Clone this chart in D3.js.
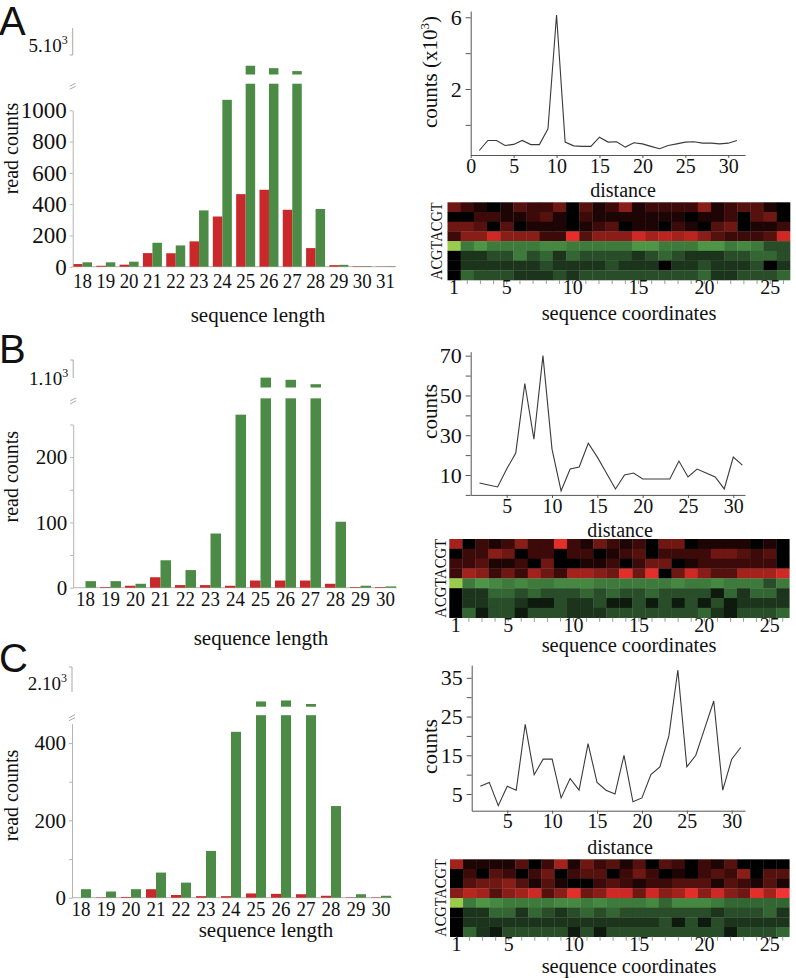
<!DOCTYPE html>
<html><head><meta charset="utf-8">
<script src="https://cdn.jsdelivr.net/npm/d3@7"></script>
<style>
body{margin:0;background:#fff}
svg text{font-family:"Liberation Serif","Times New Roman",serif;fill:#111}
svg text.panel{font-family:"Liberation Sans",Arial,sans-serif}
</style></head><body>
<svg id="fig" width="796" height="978"></svg>
<script>
// ---------------- DATA ----------------
// Panel bar charts: read counts by sequence length (red / green series)
const lengthsA = [18,19,20,21,22,23,24,25,26,27,28,29,30,31];
const redA   = [17,6,13,87,86,162,321,464,492,364,119,10,3,2];
const greenA = [28,28,32,153,136,360,1067,2910,2435,1865,369,12,4,3];

const lengthsB = [18,19,20,21,22,23,24,25,26,27,28,29,30];
const redB   = [0,1,3,16,4,4,3,11,11,11,6,1,1];
const greenB = [10,10,6,42,27,83,265,552,496,384,101,3,2];

const lengthsC = [18,19,20,21,22,23,24,25,26,27,28,29,30];
const redC   = [0,1,2,22,7,4,4,11,10,9,5,1,1];
const greenC = [22,16,22,65,39,121,429,681,719,583,237,9,5];

// Distance line charts
const distA = d3.range(1, 32);
const countsA = [-1.43,-0.87,-0.87,-1.15,-1.09,-0.87,-1.1,-1.1,-0.22,6.13,-0.96,-1.17,-1.2,-1.2,-0.69,-0.96,-0.94,-1.24,-1.0,-1.06,-1.2,-1.33,-1.15,-1.06,-0.96,-0.94,-1.02,-1.02,-1.06,-1.02,-0.87];
const distB = d3.range(2, 32);
const countsB = [6,5,4,13,21,56,28,70,23,2,13,14,26,19,11,3,10,11,8,8,8,8,17,9,13,11,9,3,19,15];
const distC = d3.range(2, 32);
const countsC = [7,8,2,7,6,23,10,14,14,4,9,6,18,8,6,5,15,3,4,10,12,20,37,12,15,22,29,6,14,17];

// Tick labels
const barTicksA = [0,200,400,600,800,1000];
const barTicksB = [0,50,100,150,200,250];
const barLabelsB = [0,100,200];
const barTicksC = [0,100,200,300,400];
const barLabelsC = [0,200,400];
const lineTicksA = [0,2,4,6], lineLabelsA = [2,6];
const lineTicksB = [0,10,20,30,40,50,60,70], lineLabelsB = [10,30,50,70];
const lineTicksC = [5,10,15,20,25,30,35], lineLabelsC = [5,15,25,35];
const distTicksA = [0,5,10,15,20,25,30];
const distTicksBC = [5,10,15,20,25,30];
const coordLabels = [1,5,10,15,20,25];
const coords = d3.range(1, 27);
const baseLabels = "ACGTACGT";

// Heatmaps: rows top->bottom (T,G,C,A red ; T,G,C,A green), 26 sequence coordinates, intensity 0-10
const heatA = [
 [4,2,1,0,1,3,2,2,4,0,3,1,2,5,1,2,2,2,2,5,1,2,3,3,1,0],
 [0,0,2,2,1,1,2,3,1,0,2,1,1,1,1,1,1,1,0,1,1,2,0,3,4,0],
 [4,4,3,0,3,0,1,1,1,0,1,2,3,0,1,1,0,2,1,0,3,4,0,1,1,2],
 [2,5,5,8,5,5,5,2,2,9,3,5,5,5,8,6,7,6,7,5,3,2,2,2,3,8],
 [10,5,7,5,5,5,5,6,6,5,5,5,5,5,7,7,5,5,5,7,7,5,6,5,3,3],
 [0,2,2,3,3,5,3,4,2,4,3,3,3,3,2,3,4,3,2,2,2,3,3,4,4,3],
 [0,2,2,2,2,2,2,3,2,2,2,2,3,2,2,2,0,2,2,3,2,2,2,3,0,2],
 [0,4,3,3,3,2,2,2,3,2,3,3,3,3,3,3,3,3,3,4,2,2,3,3,3,4]
];
const heatB = [
 [6,0,2,1,2,5,2,2,9,2,1,4,2,1,2,0,4,4,0,1,1,1,1,0,1,0],
 [0,2,2,5,4,0,2,2,0,2,2,0,1,2,3,0,2,2,2,2,4,4,3,2,3,0],
 [2,2,3,1,1,2,0,4,0,0,1,1,2,0,2,4,4,0,1,2,2,2,2,2,2,0],
 [2,6,5,2,4,2,6,4,2,6,6,5,4,9,4,9,0,4,8,5,3,3,6,6,6,8],
 [10,5,7,6,5,6,5,5,6,6,6,5,5,5,5,5,5,6,5,5,6,5,5,5,3,5],
 [0,2,2,4,4,3,4,3,3,3,4,3,4,3,3,4,3,3,3,3,1,4,2,4,4,2],
 [0,2,2,3,3,2,1,1,3,2,2,3,1,1,3,1,3,1,3,1,3,1,2,2,2,2],
 [0,4,1,3,3,1,3,3,3,2,2,2,3,3,3,3,3,3,3,4,2,1,3,3,3,4]
];
const heatC = [
 [6,1,1,1,1,3,0,2,6,1,4,2,3,1,3,0,3,2,0,2,1,3,0,0,0,0],
 [0,2,0,3,2,0,2,4,0,2,3,3,0,2,4,2,0,1,0,2,3,2,5,0,3,3],
 [0,3,4,4,5,3,1,3,1,0,0,2,3,2,1,2,2,3,3,3,1,3,2,1,3,1],
 [5,7,6,3,5,6,8,3,5,9,4,5,8,8,4,8,5,6,9,5,8,5,4,9,6,10],
 [10,5,7,6,5,5,5,5,6,6,5,6,5,5,5,6,4,6,6,6,5,4,4,4,4,4],
 [0,2,2,4,4,2,4,3,2,3,4,3,4,3,3,3,3,3,3,3,2,3,3,3,4,2],
 [0,2,2,2,2,2,2,2,2,2,2,2,2,2,2,2,3,1,3,1,3,2,2,2,2,2],
 [0,4,2,1,3,3,3,3,3,1,3,1,3,3,3,3,3,3,3,3,3,1,3,3,3,4]
];

// ---------------- DRAWING ----------------
const svg = d3.select("#fig");
const COL = {red: "#c9292a", green: "#4c8b45"};
const redScale = d3.scaleLinear().domain([0,2,4,6,9,10])
  .range(["#000000","#3c0a09","#6e1713","#a3221c","#e52d29","#f23333"]);
const greenScale = d3.scaleLinear().domain([0,2,3,4,5,7,10])
  .range(["#000000","#1c331c","#284d28","#346634","#3e7a3b","#4e9547","#99cb4c"]);

function text(g, x, y, s, size, anchor, rot) {
  return g.append("text")
    .attr("transform", `translate(${x},${y})` + (rot ? ` rotate(${rot})` : ""))
    .attr("text-anchor", anchor || "middle").attr("font-size", size).text(s);
}
function styleAxis(sel, color, size) {
  sel.attr("font-family", null);
  sel.select(".domain").attr("stroke", color);
  sel.selectAll(".tick line").attr("stroke", color);
  sel.selectAll(".tick text").attr("font-size", size).attr("fill", "#111");
}

function barPanel(p) {
  const g = svg.append("g");
  const x0 = d3.scaleBand().domain(p.cats).range(p.xr).paddingInner(p.pad).paddingOuter(0);
  const x1 = d3.scaleBand().domain(["red","green"]).range([0, x0.bandwidth()]);
  const yL = d3.scaleLinear().domain([0, p.axisTop]).range(p.yr);
  const yU = d3.scaleLinear().domain(p.upDomain).range(p.upRange);
  const y0 = yL(0);
  const rows = p.cats.map((c, i) => ({c, red: p.red[i], green: p.green[i]}));

  g.append("line").attr("x1", p.axisX).attr("x2", p.xr[1] + 1)
    .attr("y1", y0).attr("y2", y0).attr("stroke", "#b4b4b4");

  ["red","green"].forEach(s => {
    g.selectAll(null).data(rows).join("rect")
      .attr("x", d => x0(d.c) + x1(s)).attr("width", x1.bandwidth())
      .attr("y", d => yL(Math.min(d[s], p.clip)))
      .attr("height", d => y0 - yL(Math.min(d[s], p.clip)))
      .attr("fill", COL[s]);
    g.selectAll(null).data(rows.filter(d => d[s] > p.clip)).join("rect")
      .attr("x", d => x0(d.c) + x1(s)).attr("width", x1.bandwidth())
      .attr("y", d => yU(d[s]))
      .attr("height", d => yU(p.upDomain[0]) - yU(d[s]))
      .attr("fill", COL[s]);
  });

  const ay = g.append("g").attr("transform", `translate(${p.axisX},0)`)
    .call(d3.axisLeft(yL).tickValues(p.ticks).tickSize(3).tickSizeOuter(0).tickPadding(3)
      .tickFormat(d => p.labels.includes(d) ? d : ""));
  styleAxis(ay, "#b4b4b4", p.tickFont);

  // upper (broken) axis segment
  g.append("line").attr("x1", p.axisX).attr("x2", p.axisX)
    .attr("y1", p.bracket[0]).attr("y2", p.bracket[1]).attr("stroke", "#aaa");
  g.append("line").attr("x1", p.axisX - 3).attr("x2", p.axisX)
    .attr("y1", yU(p.upTick)).attr("y2", yU(p.upTick)).attr("stroke", "#aaa");
  const ul = text(g, p.axisX - 5, p.upLabelY, p.upLabel, 19, "end");
  ul.append("tspan").attr("dy", -8).attr("font-size", 12).text("3");

  // break mark
  const by = yL(p.clip) + 1;
  [0, 3].forEach(o => g.append("line")
    .attr("x1", p.axisX - 3).attr("x2", p.axisX + 3)
    .attr("y1", by + o + 1.5).attr("y2", by + o - 1.5).attr("stroke", "#aaa"));

  // category labels
  g.selectAll(null).data(p.cats).join("text")
    .attr("transform", d => `translate(${x0(d) + x0.bandwidth() / 2},${p.catY}) scale(0.86,1)`)
    .attr("text-anchor", "middle").attr("font-size", 22).text(d => d);

  text(g, p.titleX, p.titleY, "sequence length", 21);
  text(g, 18, p.ylabY, "read counts", 20, "middle", -90);
  text(g, -1, p.letterY, p.letter, 40, "start").attr("class", "panel");
}

function linePanel(p) {
  const g = svg.append("g");
  const x = d3.scaleLinear().domain(p.xd).range(p.xr);
  const y = d3.scaleLinear().domain(p.yd).range(p.yr);
  const ax = g.append("g").attr("transform", `translate(0,${p.yr[0]})`)
    .call(d3.axisBottom(x).tickValues(p.xticks).tickSize(3).tickSizeOuter(0).tickPadding(2));
  styleAxis(ax, "#555", 21);
  ax.selectAll(".tick text").attr("transform", "scale(0.95,1)").attr("dy", "0.6em");
  const ay = g.append("g").attr("transform", `translate(${p.xr[0]},0)`)
    .call(d3.axisLeft(y).tickValues(p.yticks).tickSize(5).tickSizeOuter(0).tickPadding(4)
      .tickFormat(d => p.ylabels.includes(d) ? d : ""));
  styleAxis(ay, "#555", 22);
  g.append("path").datum(d3.zip(p.dist, p.counts))
    .attr("d", d3.line().x(d => x(d[0])).y(d => y(d[1])))
    .attr("fill", "none").attr("stroke", "#3a3a3a").attr("stroke-width", 1.1);
  text(g, p.titleX, p.titleY, "distance", 20);
  const yl = text(g, p.ylabX, p.ylabY, p.ylab, 21, "middle", -90);
  if (p.sup) {
    yl.append("tspan").attr("dy", -8).attr("font-size", 13).text("3");
    yl.append("tspan").attr("dy", 8).text(")");
  }
}

function heatPanel(p) {
  const g = svg.append("g");
  const x = d3.scaleBand().domain(coords).range(p.xr);
  const y = d3.scaleBand().domain(d3.range(8)).range(p.yr);
  const cells = [];
  p.heat.forEach((row, i) => row.forEach((v, j) => cells.push({r: i, c: coords[j], v})));
  g.selectAll(null).data(cells).join("rect")
    .attr("x", d => x(d.c)).attr("y", d => y(d.r))
    .attr("width", x.bandwidth() + 0.3).attr("height", y.bandwidth() + 0.3)
    .attr("fill", d => d.r < 4 ? redScale(d.v) : greenScale(d.v));
  const ax = g.append("g").attr("transform", `translate(0,${p.yr[1]})`)
    .call(d3.axisBottom(x).tickValues(coords).tickSize(4).tickPadding(0)
      .tickFormat(d => coordLabels.includes(d) ? d : ""));
  ax.select(".domain").remove();
  styleAxis(ax, "#999", 20);
  ax.selectAll(".tick text").attr("dy", "0.5em");
  text(g, p.rowLabX, (p.yr[0] + p.yr[1]) / 2, baseLabels, 17, "middle", -90)
    .attr("textLength", p.yr[1] - p.yr[0]).attr("lengthAdjust", "spacingAndGlyphs");
  text(g, 629, p.titleY, "sequence coordinates", 20.5);
}

// ---- Panel A ----
barPanel({letter: "A", letterY: 35, cats: lengthsA, red: redA, green: greenA,
  xr: [73, 395], pad: 0.185, axisX: 72.7, axisTop: 1000, yr: [266.7, 110.3], clip: 1170,
  ticks: barTicksA, labels: barTicksA, tickFont: 23,
  upDomain: [1200, 5000], upRange: [74.5, 55], upTick: 5000, bracket: [55, 28], upLabel: "5.10", upLabelY: 52,
  catY: 288, titleX: 258, titleY: 322, ylabY: 148.5});
linePanel({dist: distA, counts: countsA, xd: [0, 31.95], xr: [470.7, 745], yd: [-1.68, 6.35], yr: [155, 11],
  xticks: distTicksA, yticks: lineTicksA, ylabels: lineLabelsA,
  titleX: 623, titleY: 197, ylab: "counts (x10", sup: true, ylabX: 437, ylabY: 72});
heatPanel({heat: heatA, xr: [447.5, 790], yr: [202.3, 280], rowLabX: 442, titleY: 320});

// ---- Panel B ----
barPanel({letter: "B", letterY: 363, cats: lengthsB, red: redB, green: greenB,
  xr: [75, 396], pad: 0.16, axisX: 73.2, axisTop: 250, yr: [587.7, 424.45], clip: 290,
  ticks: barTicksB, labels: barLabelsB, tickFont: 21,
  upDomain: [300, 1000], upRange: [387.5, 360], upTick: 1000, bracket: [378, 360], upLabel: "1.10", upLabelY: 385,
  catY: 606, titleX: 261, titleY: 645, ylabY: 476.7});
linePanel({dist: distB, counts: countsB, xd: [1.03, 31.29], xr: [470.7, 745], yd: [0, 72], yr: [494.9, 351.7],
  xticks: distTicksBC, yticks: lineTicksB, ylabels: lineLabelsB,
  titleX: 620, titleY: 537, ylab: "counts", sup: false, ylabX: 437, ylabY: 411.5});
heatPanel({heat: heatB, xr: [449.3, 789.3], yr: [539, 617.7], rowLabX: 446, titleY: 652});

// ---- Panel C ----
barPanel({letter: "C", letterY: 672, cats: lengthsC, red: redC, green: greenC,
  xr: [71, 391], pad: 0.2, axisX: 72, axisTop: 450, yr: [897.7, 723.7], clip: 472,
  ticks: barTicksC, labels: barLabelsC, tickFont: 21,
  upDomain: [480, 2000], upRange: [706.7, 667], upTick: 2000, bracket: [692, 667], upLabel: "2.10", upLabelY: 690,
  catY: 916, titleX: 266, titleY: 937, ylabY: 795.5});
linePanel({dist: distC, counts: countsC, xd: [1.04, 31.48], xr: [471.7, 745], yd: [0.7, 38.3], yr: [810.7, 665],
  xticks: distTicksBC, yticks: lineTicksC, ylabels: lineLabelsC,
  titleX: 620, titleY: 854, ylab: "counts", sup: false, ylabX: 437, ylabY: 746.5});
heatPanel({heat: heatC, xr: [450, 789.3], yr: [859.3, 936.7], rowLabX: 446, titleY: 973});
</script>
</body></html>
